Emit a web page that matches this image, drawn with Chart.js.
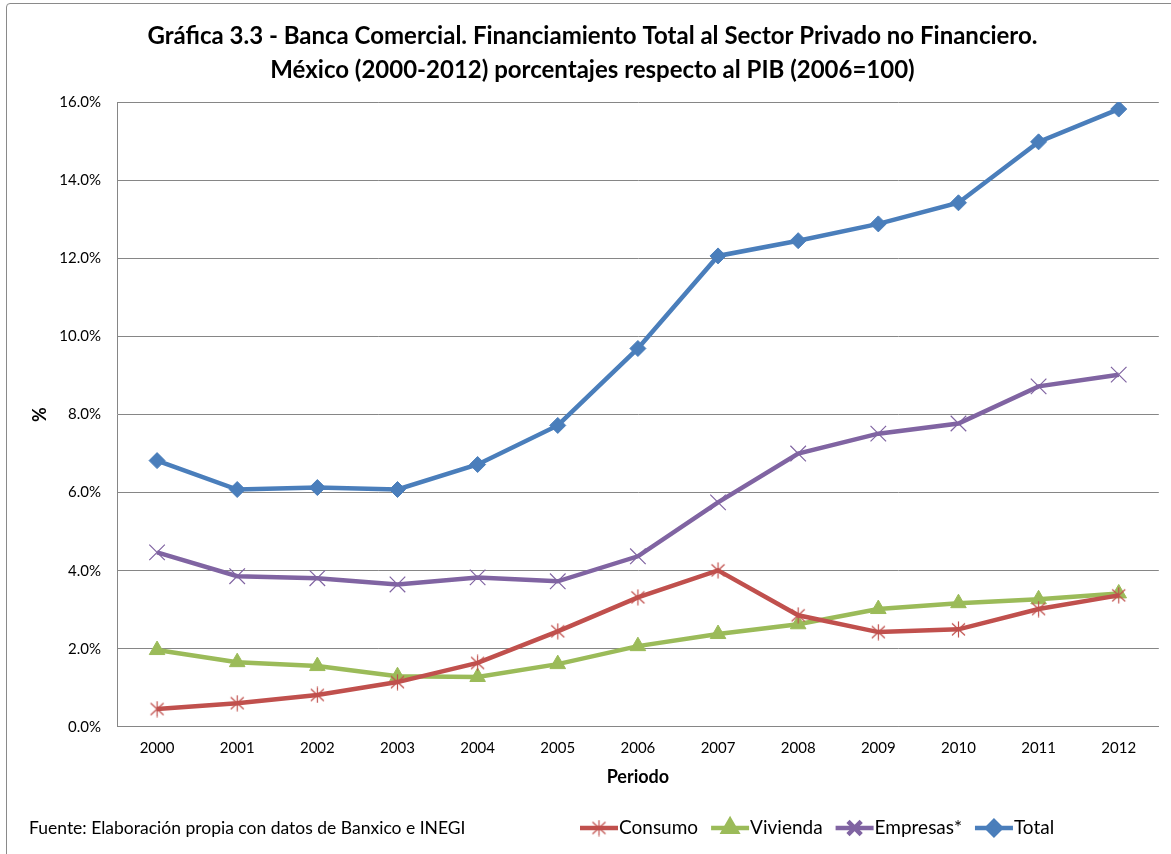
<!DOCTYPE html>
<html>
<head>
<meta charset="utf-8">
<script src="https://cdn.jsdelivr.net/npm/chart.js@4"></script>
<style>
  html, body { margin: 0; padding: 0; background: #fff; }
  #wrap { position: relative; width: 1171px; height: 854px; overflow: hidden; }
  #frame { position: absolute; left: 6px; top: 3px; width: 1200px; height: 900px; border: 1px solid #8a8a8a; border-radius: 4px; }
  #chart { position: absolute; left: 0; top: 0; }
  #fuente { position: absolute; left: 29px; top: 817px; font: 17.5px Lato, sans-serif; color: #000; }
</style>
</head>
<body>
<div id="wrap">
  <div id="frame"></div>
  <canvas id="chart" width="1171" height="854"></canvas>
  <div id="fuente">Fuente: Elaboración propia con datos de Banxico e INEGI</div>
</div>
<script>
// Datos (% respecto al PIB)
const years = ['2000','2001','2002','2003','2004','2005','2006','2007','2008','2009','2010','2011','2012'];
const consumo  = [0.46, 0.61, 0.82, 1.15, 1.64, 2.45, 3.32, 4.01, 2.86, 2.43, 2.50, 3.02, 3.37];
const vivienda = [1.97, 1.66, 1.56, 1.30, 1.28, 1.61, 2.07, 2.38, 2.63, 3.02, 3.17, 3.27, 3.42];
const empresas = [4.47, 3.86, 3.81, 3.65, 3.83, 3.73, 4.37, 5.75, 7.00, 7.51, 7.77, 8.72, 9.02];
const total    = [6.82, 6.08, 6.13, 6.08, 6.72, 7.72, 9.69, 12.06, 12.45, 12.88, 13.42, 14.98, 15.82];

const ROJO = '#c0504d';
const VERDE = '#9bbb59';
const MORADO = '#8064a2';
const AZUL = '#4a7ebb';

// marcador asterisco (estilo Excel)
function asterisco(color) {
  const c = document.createElement('canvas');
  c.width = 17; c.height = 17;
  const g = c.getContext('2d');
  g.strokeStyle = color; g.lineWidth = 1.2;
  g.beginPath();
  g.moveTo(8.5, 0.5); g.lineTo(8.5, 16.5);
  g.moveTo(2, 2.5); g.lineTo(15, 14.5);
  g.moveTo(15, 2.5); g.lineTo(2, 14.5);
  g.stroke();
  return c;
}

function serie(label, data, color, style, radius) {
  return {
    label, data,
    borderColor: color,
    backgroundColor: color,
    borderWidth: 4.5,
    pointStyle: style,
    pointRadius: radius,
    pointHoverRadius: radius,
    pointBorderWidth: style === 'crossRot' ? 1.2 : 1,
    pointBorderColor: color,
    pointBackgroundColor: color,
    tension: 0
  };
}

// leyenda dibujada abajo a la derecha
const leyenda = {
  id: 'leyenda',
  afterDraw(chart) {
    const ctx = chart.ctx;
    let x = 580;
    const y = 828;
    ctx.save();
    ctx.font = '19px Lato, sans-serif';
    ctx.textBaseline = 'middle';
    chart.data.datasets.forEach(ds => {
      ctx.strokeStyle = ds.borderColor;
      ctx.lineWidth = 4.5;
      ctx.beginPath(); ctx.moveTo(x, y); ctx.lineTo(x + 38, y); ctx.stroke();
      ctx.fillStyle = ds.borderColor;
      Chart.helpers.drawPoint(ctx, {
        pointStyle: ds.pointStyle, radius: ds.pointRadius * 0.85,
        borderWidth: ds.pointBorderWidth, rotation: 0
      }, x + 19, y);
      ctx.fillStyle = '#000';
      ctx.fillText(ds.label, x + 39, y);
      x += 39 + ctx.measureText(ds.label).width + 13;
    });
    ctx.restore();
  }
};

new Chart(document.getElementById('chart'), {
  type: 'line',
  data: {
    labels: years,
    datasets: [
      serie('Consumo', consumo, ROJO, asterisco(ROJO), 8),
      serie('Vivienda', vivienda, VERDE, 'triangle', 9),
      serie('Empresas*', empresas, MORADO, 'crossRot', 11),
      serie('Total', total, AZUL, 'rectRot', 8)
    ]
  },
  options: {
    responsive: false,
    animation: false,
    layout: { padding: { left: 22, right: 8, top: 0, bottom: 60 } },
    plugins: {
      legend: { display: false },
      tooltip: { enabled: false },
      title: {
        display: true,
        text: ['Gráfica 3.3 - Banca Comercial. Financiamiento Total al Sector Privado no Financiero.',
               'México (2000-2012) porcentajes respecto al PIB (2006=100)'],
        color: '#000',
        font: { family: 'Lato, sans-serif', size: 24, weight: 'bold', lineHeight: 1.417 },
        padding: { top: 19, bottom: 15 }
      }
    },
    scales: {
      x: {
        offset: true,
        grid: { display: false, drawTicks: false },
        border: { display: true, color: '#868686', width: 1 },
        ticks: { color: '#000', font: { family: 'Lato, sans-serif', size: 15 }, padding: 12, maxRotation: 0 },
        title: { display: true, text: 'Periodo', color: '#000', font: { family: 'Lato, sans-serif', size: 18, weight: 'bold' }, padding: { top: 4, bottom: 6 } },
        afterFit(scale) { scale.height = 67; }
      },
      y: {
        min: 0, max: 16,
        grid: { color: '#868686', lineWidth: 1, drawTicks: false },
        border: { display: true, color: '#868686', width: 1 },
        ticks: { stepSize: 2, color: '#000', font: { family: 'Lato, sans-serif', size: 15 }, padding: 16,
                 callback: v => v.toFixed(1) + '%' },
        title: { display: true, text: '%', color: '#000', font: { family: 'Lato, sans-serif', size: 18, weight: 'bold' }, padding: { top: 7, bottom: 7 } },
        afterFit(scale) { scale.width = 95; }
      }
    }
  },
  plugins: [leyenda]
});
</script>
</body>
</html>
